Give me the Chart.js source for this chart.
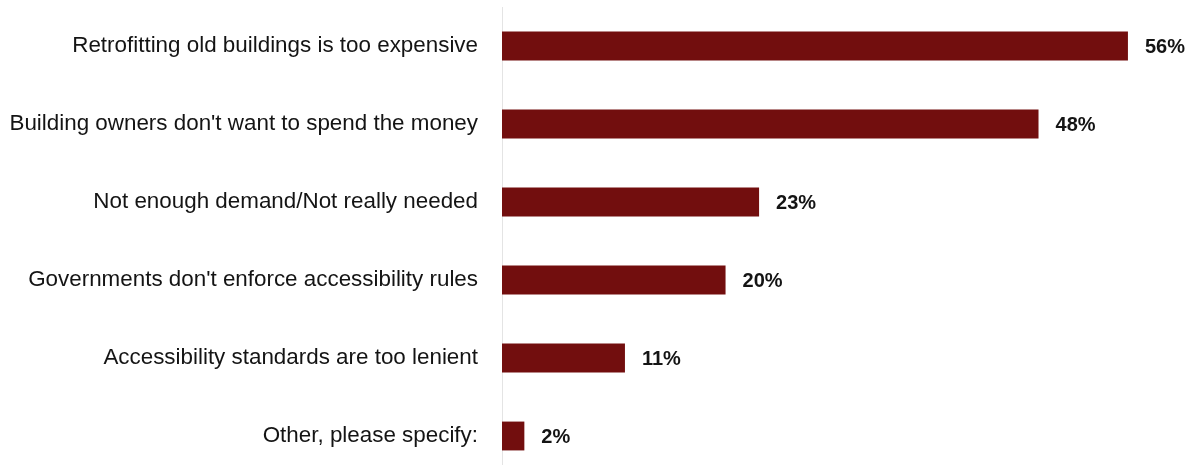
<!DOCTYPE html>
<html>
<head>
<meta charset="utf-8">
<script src="https://cdn.jsdelivr.net/npm/chart.js@4/dist/chart.umd.min.js"></script>
<style>
  html, body { margin: 0; padding: 0; background: #ffffff; overflow: hidden; }
  #wrap { width: 1195px; height: 476px; }
</style>
</head>
<body>
<div id="wrap"><canvas id="chart" width="1195" height="476"></canvas></div>
<script>
// Survey answers: why buildings are not made accessible
const reasons = [
  "Retrofitting old buildings is too expensive",
  "Building owners don't want to spend the money",
  "Not enough demand/Not really needed",
  "Governments don't enforce accessibility rules",
  "Accessibility standards are too lenient",
  "Other, please specify:"
];
const shares = [56, 48, 23, 20, 11, 2];
const valueSuffix = "%";

const barColor = "#720e0e";
const textColor = "#141414";
const labelFont = "'Liberation Sans', Arial, sans-serif";

// Writes each bar's percentage just past its end
const valueLabels = {
  id: "valueLabels",
  afterDatasetsDraw(chart) {
    const ctx = chart.ctx;
    const meta = chart.getDatasetMeta(0);
    const data = chart.data.datasets[0].data;
    ctx.save();
    ctx.font = "bold 20px " + labelFont;
    ctx.fillStyle = textColor;
    ctx.textAlign = "left";
    ctx.textBaseline = "middle";
    meta.data.forEach((bar, i) => {
      ctx.fillText(data[i] + valueSuffix, bar.x + 17, bar.y + 1);
    });
    ctx.restore();
  }
};

new Chart(document.getElementById("chart"), {
  type: "bar",
  data: {
    labels: reasons,
    datasets: [{
      data: shares,
      backgroundColor: barColor,
      borderWidth: 0,
      barPercentage: 0.37,
      categoryPercentage: 1.0
    }]
  },
  options: {
    indexAxis: "y",
    responsive: false,
    animation: false,
    layout: { padding: { top: 7, bottom: 1, left: 0, right: 0 } },
    plugins: {
      legend: { display: false },
      tooltip: { enabled: false },
      title: { display: false }
    },
    scales: {
      x: {
        display: false,
        min: 0,
        max: 62
      },
      y: {
        afterFit(scale) {
          scale.width = 502;
          scale.paddingTop = 0;
          scale.paddingBottom = 0;
        },
        grid: { display: false, drawTicks: false },
        border: { display: true, color: "#e4e4e4", width: 1 },
        ticks: {
          color: textColor,
          padding: 24,
          font: { family: labelFont, size: 22.4 }
        }
      }
    }
  },
  plugins: [valueLabels]
});
</script>
</body>
</html>
